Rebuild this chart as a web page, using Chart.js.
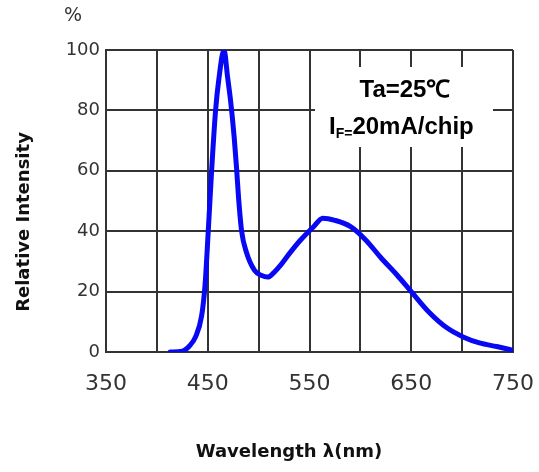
<!DOCTYPE html>
<html>
<head>
<meta charset="utf-8">
<script src="https://cdn.jsdelivr.net/npm/chart.js@4.4.1/dist/chart.umd.min.js"></script>
<style>
  html, body { margin: 0; padding: 0; background: #fff; }
  #wrap { width: 539px; height: 472px; }
</style>
</head>
<body>
<div id="wrap"><canvas id="spectrumChart" width="539" height="472"></canvas></div>
<script>
// wavelength (nm) and relative intensity (%)
const wavelengths = [413, 425, 432, 438, 444, 447.3, 450.5, 453.8, 457.7, 461, 466, 469.5, 472.5, 476, 478.3, 480.3, 483.3, 488, 496,
                     503, 509, 515, 521, 530, 541, 554, 563, 575, 590, 605, 620, 636, 650, 668, 685, 701, 717, 734, 750];
const intensity = [0, 0.3, 2, 5, 12, 22, 40, 60, 80, 90.6, 100, 91, 83, 71, 61, 51, 40, 33, 27,
                   25.3, 24.8, 26.3, 28.5, 32.5, 37, 41.5, 44.3, 43.6, 41.6, 37.2, 31.3, 25.5, 20, 13, 8, 5, 3, 1.8, 0.6];
const xTickLabels = [350, 450, 550, 650, 750];
const yTicks = [0, 20, 40, 60, 80, 100];

const gridColor = "#333";
const titleFont = "bold 18px 'DejaVu Sans', sans-serif";

// white note box with test conditions, axis titles and the "%" unit mark
const notePlugin = {
    id: "notePlugin",
    beforeDatasetsDraw(chart) {
        const ctx = chart.ctx;
        ctx.save();
        ctx.fillStyle = "#fff";
        ctx.fillRect(315, 67, 178, 80);
        ctx.fillStyle = "#000";
        ctx.textBaseline = "alphabetic";
        ctx.font = "bold 24px 'Liberation Sans', Arial, sans-serif";
        ctx.textAlign = "center";
        ctx.fillText("Ta=25\u2103", 405, 97);

        ctx.textAlign = "left";
        let x = 329;
        ctx.fillText("I", x, 134);
        x += ctx.measureText("I").width;
        ctx.font = "bold 14px 'Liberation Sans', Arial, sans-serif";
        ctx.fillText("F=", x, 138);
        x += ctx.measureText("F=").width;
        ctx.font = "bold 24px 'Liberation Sans', Arial, sans-serif";
        ctx.fillText("20mA/chip", x, 134);
        ctx.restore();
    },
    afterDraw(chart) {
        const ctx = chart.ctx;
        ctx.save();
        ctx.fillStyle = "#333";
        ctx.font = "19px 'DejaVu Sans', sans-serif";
        ctx.textAlign = "center";
        ctx.textBaseline = "middle";
        ctx.fillText("%", 73, 16);

        ctx.fillStyle = "#111";
        ctx.font = titleFont;
        ctx.fillText("Wavelength \u03bb(nm)", 289, 452);

        ctx.translate(24, 222);
        ctx.rotate(-Math.PI / 2);
        ctx.fillText("Relative Intensity", 0, 0);
        ctx.restore();
    }
};

const ctx = document.getElementById("spectrumChart").getContext("2d");

new Chart(ctx, {
    type: "line",
    data: {
        datasets: [{
            data: wavelengths.map((w, i) => ({ x: w, y: intensity[i] })),
            borderColor: "#0808f4",
            borderWidth: 5,
            pointRadius: 0,
            fill: false,
            cubicInterpolationMode: "monotone",
            borderCapStyle: "round",
            borderJoinStyle: "round"
        }]
    },
    options: {
        responsive: false,
        animation: false,
        devicePixelRatio: 1,
        layout: { padding: { left: 14, top: 50, right: 26, bottom: 11 } },
        plugins: {
            legend: { display: false },
            tooltip: { enabled: false }
        },
        scales: {
            x: {
                type: "linear",
                min: 350,
                max: 750,
                afterBuildTicks(scale) {
                    const t = [];
                    for (let v = 350; v <= 750; v += 50) t.push({ value: v });
                    scale.ticks = t;
                },
                afterFit(scale) {
                    scale.height = 109;
                    scale.paddingLeft = 0;
                    scale.paddingRight = 0;
                },
                grid: { color: gridColor, lineWidth: 2, drawTicks: false },
                border: { color: gridColor, width: 2 },
                ticks: {
                    padding: 19,
                    maxRotation: 0,
                    autoSkip: false,
                    color: "#333",
                    font: { family: "'DejaVu Sans', sans-serif", size: 22 },
                    callback: v => xTickLabels.includes(v) ? String(v) : ""
                }
            },
            y: {
                min: 0,
                max: 100,
                afterBuildTicks(scale) {
                    scale.ticks = yTicks.map(v => ({ value: v }));
                },
                afterFit(scale) {
                    scale.width = 92;
                    scale.paddingTop = 0;
                    scale.paddingBottom = 0;
                },
                grid: { color: gridColor, lineWidth: 2, drawTicks: false },
                border: { color: gridColor, width: 2 },
                ticks: {
                    padding: 6,
                    color: "#333",
                    font: { family: "'DejaVu Sans', sans-serif", size: 18 }
                }
            }
        }
    },
    plugins: [notePlugin]
});
</script>
</body>
</html>
